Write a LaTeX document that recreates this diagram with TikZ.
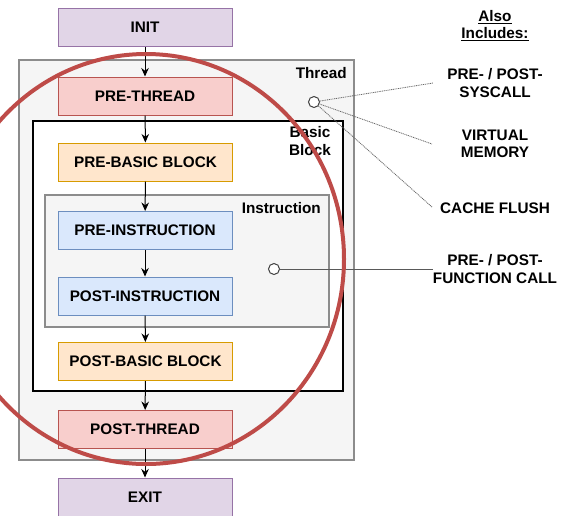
\documentclass[tikz,border=0pt]{standalone}
\usepackage{fontspec}
\setmainfont{Liberation Sans}
\usetikzlibrary{arrows.meta}
\definecolor{initfill}{HTML}{E1D5E7}\definecolor{initline}{HTML}{9673A6}
\definecolor{thrfill}{HTML}{F8CECC}\definecolor{thrline}{HTML}{B85450}
\definecolor{bbfill}{HTML}{FFE6CC}\definecolor{bbline}{HTML}{D79B00}
\definecolor{insfill}{HTML}{DAE8FC}\definecolor{insline}{HTML}{6C8EBF}
\definecolor{panel}{HTML}{F5F5F5}\definecolor{panelline}{HTML}{8C8C8C}
\definecolor{ring}{HTML}{BE4B48}
\tikzset{
  txt/.style={font=\fontsize{15.3}{17.5}\selectfont\bfseries, text=black, align=center, inner sep=0pt},
  stage/.style={txt, draw, line width=1pt, minimum width=174pt, minimum height=38pt},
  initbox/.style={stage, fill=initfill, draw=initline},
  threadbox/.style={stage, fill=thrfill, draw=thrline},
  blockbox/.style={stage, fill=bbfill, draw=bbline},
  insbox/.style={stage, fill=insfill, draw=insline},
  panelbox/.style={draw=panelline, fill=panel, line width=1.3pt, inner sep=0pt},
  flow/.style={line width=1pt, -{Stealth[length=8.5pt,width=7.5pt]}},
  hook/.style={circle, draw=black!75, fill=white, line width=1pt, minimum size=11pt, inner sep=0pt},
  dotlink/.style={draw=black!60, line width=0.8pt, dash pattern=on 1pt off 0.8pt},
  sollink/.style={draw=black!65, line width=0.8pt},
}
\begin{document}
\begin{tikzpicture}[x=1pt, y=-1pt]
\useasboundingbox (0,0) rectangle (572,515);

% nested scopes: thread, basic block, instruction
\node[panelbox, minimum width=335pt, minimum height=400pt] (thread) at (186.5,260) {};
\node[draw=black, fill=white, line width=1.2pt, inner sep=0pt, minimum width=310pt, minimum height=270pt] (block) at (188,256) {};
\node[panelbox, minimum width=284pt, minimum height=132pt] (instr) at (187,261) {};

\node[txt, anchor=east] (threadlbl) at (347,73) {Thread};
\node[txt] (blocklbl) at (310,141) {Basic\\Block};
\node[txt, anchor=east] (instrlbl) at (321,208) {Instruction};

% instrumentation stages
\node[initbox] (init) at (145,27.5) {INIT};
\node[threadbox] (prethread) at (145,96) {PRE-THREAD};
\node[blockbox] (prebb) at (145.5,162) {PRE-BASIC BLOCK};
\node[insbox] (preins) at (145,230.5) {PRE-INSTRUCTION};
\node[insbox] (postins) at (145,296) {POST-INSTRUCTION};
\node[blockbox] (postbb) at (145.5,361.5) {POST-BASIC BLOCK};
\node[threadbox] (postthread) at (145,429.5) {POST-THREAD};
\node[initbox] (exit) at (145,497) {EXIT};

\draw[flow] (init) -- (prethread);
\draw[flow] (prethread) -- (prebb);
\draw[flow] (prebb) -- (preins);
\draw[flow] (preins) -- (postins);
\draw[flow] (postins) -- (postbb);
\draw[flow] (postbb) -- (postthread);
\draw[flow] (postthread) -- (exit);

% extra hooks
\node[txt] (also) at (495,25.5) {\underline{Also}\\\underline{Includes:}};
\node[txt] (syscall) at (495,83) {PRE- / POST-\\SYSCALL};
\node[txt] (vmem) at (495,144) {VIRTUAL\\MEMORY};
\node[txt] (cache) at (495,208) {CACHE FLUSH};
\node[txt] (fcall) at (495,269) {PRE- / POST-\\FUNCTION CALL};

\coordinate (syscallend) at (433,83);
\coordinate (vmemend) at (432,144);
\coordinate (cacheend) at (432,207);
\coordinate (fcallend) at (433,269);

\node[hook] (threadhook) at (314,102) {};
\node[hook] (instrhook) at (274,269) {};

\draw[dotlink] (threadhook) -- (syscallend);
\draw[dotlink] (threadhook) -- (vmemend);
\draw[dotlink] (threadhook) -- (cacheend);
\draw[sollink] (instrhook) -- (fcallend);

% highlight ring
\draw[ring, line width=4pt] (146,259) ellipse [x radius=198pt, y radius=205pt];
\end{tikzpicture}
\end{document}
